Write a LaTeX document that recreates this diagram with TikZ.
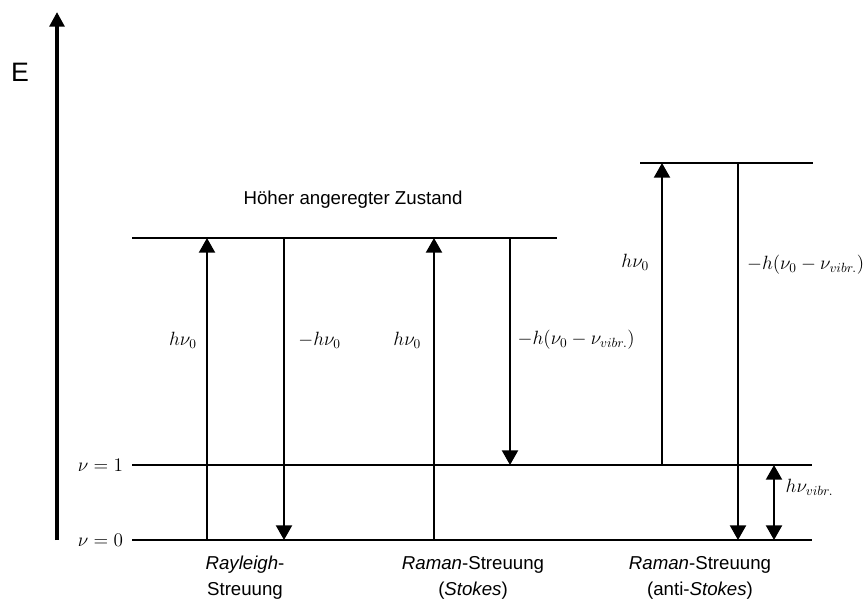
\documentclass[tikz,border=0pt]{standalone}
\usepackage{amsmath}
\usepackage{fontspec}
\setmainfont{Liberation Sans}
\usetikzlibrary{arrows.meta,positioning}

\begin{document}
\begin{tikzpicture}[
  x=0.75pt, y=-0.75pt,
  level/.style={line width=1.5pt},
  axis/.style={line width=3pt, -{Triangle[width=11pt,length=11pt]}},
  trans/.style={line width=1.6pt, -{Triangle[width=12pt,length=11pt]}},
  lbl/.style={font=\fontsize{14}{16}\selectfont, inner sep=2pt},
  txt/.style={font=\fontsize{14}{19.5}\selectfont, align=center}
]
  \useasboundingbox (0,0) rectangle (866,610);

  % Energy axis
  \coordinate (axBot) at (57,540);
  \coordinate (axTop) at (57,12);
  \draw[axis] (axBot) -- (axTop);
  \node[font=\fontsize{20}{24}\selectfont] (eLbl) at (20,72) {E};

  % Levels
  \coordinate (v0L) at (132,540); \coordinate (v0R) at (812,540);
  \coordinate (v1L) at (132,465); \coordinate (v1R) at (812,465);
  \coordinate (exL) at (132,238); \coordinate (exR) at (557,238);
  \coordinate (hiL) at (640,163); \coordinate (hiR) at (813,163);
  \draw[level] (v0L) -- (v0R);
  \draw[level] (v1L) -- (v1R);
  \draw[level] (exL) -- (exR);
  \draw[level] (hiL) -- (hiR);

  \node[lbl, left=4.5pt of v0L] (v0Lbl) {$\nu = 0$};
  \node[lbl, left=4.5pt of v1L] (v1Lbl) {$\nu = 1$};
  \node[txt] (exLbl) at (353,200) {Höher angeregter Zustand};

  % Columns of the transitions
  \coordinate (rayUp) at (207,0);
  \coordinate (rayDn) at (284,0);
  \coordinate (stoUp) at (434,0);
  \coordinate (stoDn) at (510,0);
  \coordinate (antUp) at (662,0);
  \coordinate (antDn) at (738,0);
  \coordinate (vibr) at (774,0);

  % Rayleigh
  \draw[trans] (rayUp |- v0L) -- node[lbl, pos=0.66, left=5pt] {$h\nu_0$} (rayUp |- exL);
  \draw[trans] (rayDn |- exL) -- node[lbl, pos=0.34, right=8pt] {$-h\nu_0$} (rayDn |- v0L);

  % Raman (Stokes)
  \draw[trans] (stoUp |- v0L) -- node[lbl, pos=0.66, left=7pt] {$h\nu_0$} (stoUp |- exL);
  \draw[trans] (stoDn |- exL) -- node[lbl, pos=0.45, right=3pt] {$-h(\nu_0-\nu_{vibr.})$} (stoDn |- v1L);

  % Raman (anti-Stokes)
  \draw[trans] (antUp |- v1L) -- node[lbl, pos=0.67, left=7pt] {$h\nu_0$} (antUp |- hiL);
  \draw[trans] (antDn |- hiL) -- node[lbl, pos=0.27, right=4pt] {$-h(\nu_0-\nu_{vibr.})$} (antDn |- v0L);
  \draw[trans, {Triangle[width=12pt,length=11pt]}-{Triangle[width=12pt,length=11pt]}]
    (vibr |- v1L) -- node[lbl, pos=0.3, right=6pt] {$h\nu_{vibr.}$} (vibr |- v0L);

  % Captions
  \node[txt] (rayCap) at (245,578) {\textit{Rayleigh}-\\Streuung};
  \node[txt] (stoCap) at (473,578) {\textit{Raman}-Streuung\\(\textit{Stokes})};
  \node[txt] (antCap) at (700,578) {\textit{Raman}-Streuung\\(anti-\textit{Stokes})};
\end{tikzpicture}
\end{document}
